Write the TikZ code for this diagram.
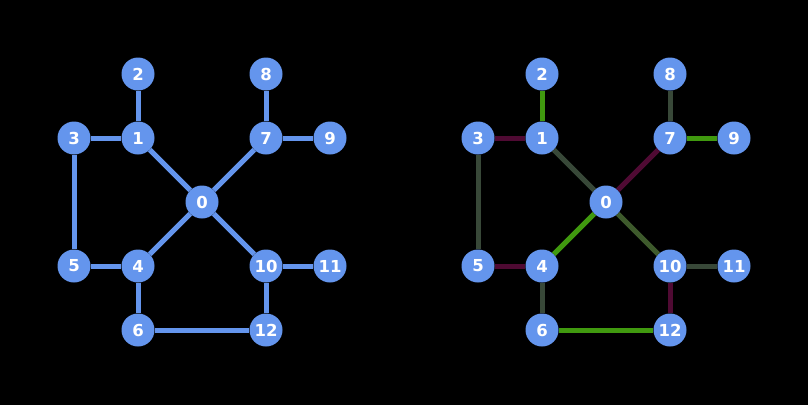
\documentclass[tikz,border=0pt]{standalone}
\usepackage{fontspec}
\setmainfont{DejaVu Sans}
\definecolor{nodeblue}{HTML}{6495ED}
\definecolor{egreen}{HTML}{40990F}
\definecolor{ered}{HTML}{4F0A33}
\definecolor{egray}{HTML}{384838}
\definecolor{eolive}{HTML}{3E5A2C}
\tikzset{
  vtx/.style={circle, fill=nodeblue, minimum size=33pt, inner sep=0pt, text=white, font=\fontsize{16.5}{18}\selectfont\bfseries},
  ledge/.style={draw=nodeblue, line width=5pt},
  gedge/.style={draw=egreen, line width=5pt},
  redge/.style={draw=ered, line width=5pt},
  kedge/.style={draw=egray, line width=5pt},
  oedge/.style={draw=eolive, line width=5pt},
}
\begin{document}
\begin{tikzpicture}[x=1pt,y=-1pt]
\fill[black] (0,0) rectangle (808,405);
\useasboundingbox (0,0) rectangle (808,405);
% left graph
\foreach \n/\x/\y in {0/202/202,1/138/138,2/138/74,3/74/138,4/138/266,5/74/266,6/138/330,7/266/138,8/266/74,9/330/138,10/266/266,11/330/266,12/266/330}{
  \node[vtx] (L\n) at (\x,\y) {\n};
}
\foreach \a/\b in {1/2,1/3,1/0,3/5,5/4,4/0,4/6,6/12,12/10,10/11,10/0,0/7,7/8,7/9}{
  \draw[ledge] (L\a) -- (L\b);
}
% right graph
\foreach \n/\x/\y in {0/606/202,1/542/138,2/542/74,3/478/138,4/542/266,5/478/266,6/542/330,7/670/138,8/670/74,9/734/138,10/670/266,11/734/266,12/670/330}{
  \node[vtx] (R\n) at (\x,\y) {\n};
}
\draw[gedge] (R1) -- (R2);
\draw[redge] (R1) -- (R3);
\draw[kedge] (R1) -- (R0);
\draw[kedge] (R3) -- (R5);
\draw[redge] (R5) -- (R4);
\draw[gedge] (R4) -- (R0);
\draw[kedge] (R4) -- (R6);
\draw[gedge] (R6) -- (R12);
\draw[redge] (R12) -- (R10);
\draw[kedge] (R10) -- (R11);
\draw[oedge] (R10) -- (R0);
\draw[redge] (R0) -- (R7);
\draw[kedge] (R7) -- (R8);
\draw[gedge] (R7) -- (R9);
\end{tikzpicture}
\end{document}
